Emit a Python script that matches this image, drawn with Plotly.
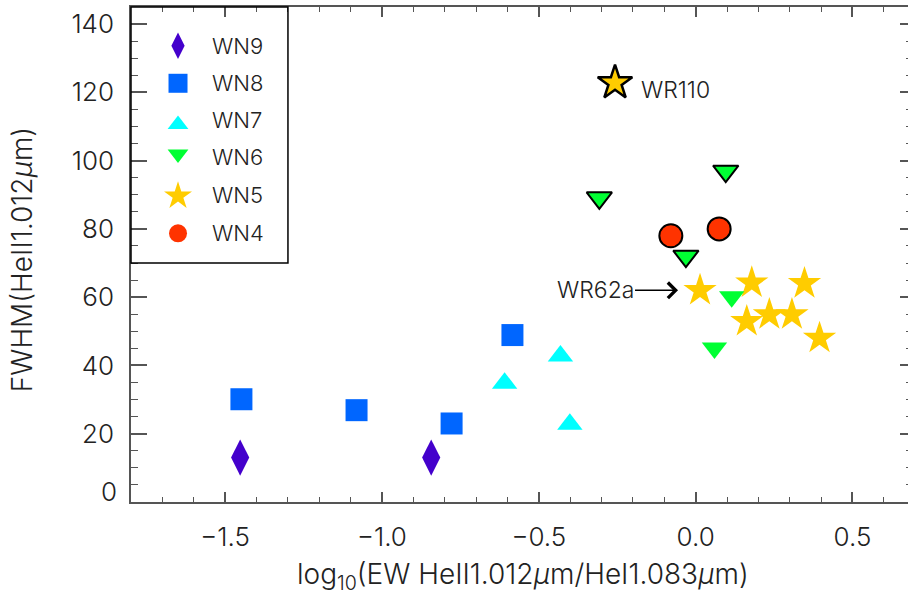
import plotly.graph_objects as go

# ---- data: log10(EW HeII 1.012um / HeI 1.083um) vs FWHM(HeII 1.012um) ----
wn9_x = [-1.452, -0.843]
wn9_y = [13.0, 13.0]

wn8_x = [-1.448, -1.081, -0.778, -0.584]
wn8_y = [30.1, 26.9, 23.0, 48.9]

wn7_x = [-0.609, -0.431, -0.401]
wn7_y = [34.8, 42.8, 22.8]

# WN6: outlined and plain symbols
wn6o_x = [-0.307, 0.096, -0.031]
wn6o_y = [89.1, 96.9, 72.0]
wn6_x = [0.115, 0.060]
wn6_y = [60.1, 45.1]

wn5_x = [0.014, 0.179, 0.347, 0.163, 0.235, 0.307, 0.395]
wn5_y = [62.0, 64.2, 64.0, 52.9, 54.9, 54.9, 48.0]

wr110_x = [-0.257]
wr110_y = [122.8]

wn4_x = [-0.079, 0.075]
wn4_y = [78.0, 80.0]

wr62a = (0.014, 62.0)

legend_names = ["WN9", "WN8", "WN7", "WN6", "WN5", "WN4"]
legend_symbols = ["diamond-tall", "square", "triangle-up", "triangle-down", "star", "circle"]
legend_colors = ["#4400CC", "#0066FF", "#00FFFF", "#00FF33", "#FFCC00", "#FF3300"]
legend_sizes = [19, 19, 18, 18, 21, 18]
legend_rows = [0.9218, 0.8459, 0.7628, 0.7028, 0.6182, 0.5428]
legend_text_rows = [0.9218, 0.8459, 0.7717, 0.6970, 0.6202, 0.5428]

x_range = [-1.8, 0.677]
y_range = [0, 145]
y_ticks = [20, 40, 60, 80, 100, 120, 140]

FONT = "Inter"
W = 300
TXT = "#222222"
AX = "#555555"
C = dict(zip(legend_names, legend_colors))

fig = go.Figure()

def pts(x, y, symbol, color, size, line_w=0):
    fig.add_trace(go.Scatter(
        x=x, y=y, mode="markers", showlegend=False, hoverinfo="skip",
        marker=dict(symbol=symbol, color=color, size=size,
                    line=dict(color="black", width=line_w)),
    ))

pts(wn5_x, wn5_y, "star", C["WN5"], 25)
pts(wr110_x, wr110_y, "star", C["WN5"], 26, 2.5)
pts(wn4_x, wn4_y, "circle", C["WN4"], 23, 2)
pts(wn6_x, wn6_y, "triangle-down", C["WN6"], 22)
pts(wn6o_x, wn6o_y, "triangle-down", C["WN6"], 22, 2)
pts(wn7_x, wn7_y, "triangle-up", C["WN7"], 22)
pts(wn8_x, wn8_y, "square", C["WN8"], 22)
pts(wn9_x, wn9_y, "diamond-tall", C["WN9"], 26)

# legend symbols drawn on an overlay frame in plot-fraction units
for name, sym, col, sz, ry in zip(legend_names, legend_symbols, legend_colors,
                                  legend_sizes, legend_rows):
    fig.add_trace(go.Scatter(
        x=[0.0605], y=[ry], xaxis="x2", yaxis="y2", mode="markers",
        showlegend=False, hoverinfo="skip",
        marker=dict(symbol=sym, color=col, size=sz, line=dict(width=0)),
    ))

# empty trace to host the right-hand tick axis
fig.add_trace(go.Scatter(x=[None], y=[None], yaxis="y3", showlegend=False,
                         hoverinfo="skip"))

annotations = []
for name, ry in zip(legend_names, legend_text_rows):
    annotations.append(dict(
        x=0.1017, y=ry, xref="paper", yref="paper", xanchor="left",
        yanchor="middle", text=name, showarrow=False,
        font=dict(family=FONT, size=22, color=TXT, weight=W)))

annotations += [
    dict(x=wr110_x[0], y=wr110_y[0], xref="x", yref="y", text="WR110",
         xanchor="left", yanchor="middle", xshift=24, yshift=-7,
         showarrow=False, font=dict(family=FONT, size=23, color=TXT, weight=W)),
    dict(x=wr62a[0], y=wr62a[1], xref="x", yref="y", text="WR62a",
         showarrow=True, ax=-105, ay=0, axref="pixel", ayref="pixel",
         arrowhead=4, arrowsize=2, arrowwidth=1.5, arrowcolor="black",
         standoff=22, font=dict(family=FONT, size=23, color=TXT, weight=W)),
    # lowest y label, raised above the x axis
    dict(x=0, y=0, xref="paper", yref="y", text="0", xanchor="right",
         yanchor="middle", xshift=-12, yshift=11, showarrow=False,
         font=dict(family=FONT, size=26, color=TXT, weight=W)),
    dict(x=0.505, y=-0.1495, xref="paper", yref="paper",
         text="log<sub>10</sub>(EW HeII1.012<i>μ</i>m/HeI1.083<i>μ</i>m)",
         xanchor="center", yanchor="middle", showarrow=False,
         font=dict(family=FONT, size=28, color=TXT, weight=W)),
    dict(x=-0.1394, y=0.49, xref="paper", yref="paper",
         text="FWHM(HeII1.012<i>μ</i>m)", textangle=-90,
         xanchor="center", yanchor="middle", showarrow=False,
         font=dict(family=FONT, size=28, color=TXT, weight=W)),
]

fig.update_layout(
    width=909, height=597,
    margin=dict(l=131, r=1, t=7, b=95, pad=0),
    paper_bgcolor="white", plot_bgcolor="white",
    showlegend=False,
    font=dict(family=FONT, color=TXT, weight=W),
    xaxis=dict(
        range=x_range, showgrid=False, zeroline=False,
        showline=True, linecolor=AX, linewidth=1.5, mirror="ticks",
        ticks="inside", ticklen=10, tickwidth=1.5, tickcolor=AX,
        tick0=0, dtick=0.5, tickformat=".1f",
        tickfont=dict(family=FONT, size=26, color=TXT, weight=W),
        ticklabelstandoff=11,
        minor=dict(ticks="inside", ticklen=5, tickwidth=1, tickcolor=AX,
                   dtick=0.1, tick0=0, showgrid=False),
    ),
    yaxis=dict(
        range=y_range, showgrid=False, zeroline=False,
        showline=True, linecolor=AX, linewidth=1.5, mirror=False,
        ticks="inside", ticklen=16, tickwidth=1.5, tickcolor=AX,
        tickmode="array", tickvals=y_ticks,
        tickfont=dict(family=FONT, size=26, color=TXT, weight=W),
        ticklabelstandoff=10,
        minor=dict(ticks="inside", ticklen=7, tickwidth=1, tickcolor=AX,
                   dtick=5, tick0=0, showgrid=False),
    ),
    yaxis3=dict(
        range=y_range, overlaying="y", side="right", anchor="x",
        showgrid=False, zeroline=False, showline=False,
        ticks="inside", ticklen=8, tickwidth=1.5, tickcolor=AX,
        tickmode="array", tickvals=y_ticks, showticklabels=False,
        minor=dict(ticks="inside", ticklen=2, tickwidth=1, tickcolor=AX,
                   dtick=5, tick0=0, showgrid=False),
    ),
    xaxis2=dict(range=[0, 1], overlaying="x", visible=False, fixedrange=True),
    yaxis2=dict(range=[0, 1], overlaying="y", visible=False, fixedrange=True),
    shapes=[dict(type="rect", xref="paper", yref="paper",
                 x0=0, x1=0.202, y0=0.483, y1=1,
                 line=dict(color="black", width=1.5))],
    annotations=annotations,
)

fig.write_html("out.html")
